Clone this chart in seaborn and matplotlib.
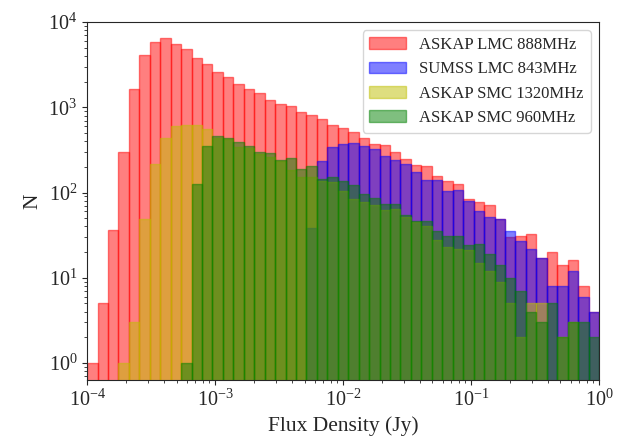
import numpy as np
import pandas as pd
import seaborn as sns
import matplotlib.pyplot as plt
from matplotlib.colors import to_rgba

# 49 log-spaced bins from 1e-4 to 1 Jy (edges given in log10 units)
log_edges = np.linspace(-4, 0, 50)
flux_centers = 10 ** ((log_edges[:-1] + log_edges[1:]) / 2)

# counts per bin
askap_lmc_888 = [1, 5, 36, 302, 1630, 4140, 5880, 6430, 5600, 4800,
                 3800, 3200, 2620, 2240, 1870, 1630, 1470, 1220, 1090, 1030,
                 890, 810, 730, 620, 575, 510, 437, 372, 363, 297,
                 250, 212, 207, 158, 136, 127, 85, 78, 72, 49,
                 30, 31, 33, 17, 20, 14, 16, 8, 4]
sumss_lmc_843 = [0, 0, 0, 0, 0, 0, 0, 0, 0, 0,
                 0, 0, 0, 0, 0, 0, 0, 0, 0, 0,
                 0, 38, 237, 347, 372, 382, 350, 325, 272, 238,
                 214, 174, 141, 141, 104, 106, 80, 61, 52, 49,
                 35, 27, 22, 17, 8, 8, 12, 6, 4]
askap_smc_1320 = [0, 0, 0, 1, 3, 49, 217, 437, 600, 627,
                  620, 560, 440, 425, 340, 330, 285, 262, 235, 182,
                  152, 152, 138, 133, 104, 83, 78, 71, 62, 65,
                  52, 45, 41, 28, 23, 22, 21, 15, 12, 9,
                  5, 2, 5, 5, 0, 2, 3, 0, 0]
askap_smc_960 = [0, 0, 0, 0, 0, 0, 0, 0, 0, 1,
                 126, 355, 455, 436, 390, 355, 302, 292, 240, 254,
                 190, 205, 145, 152, 136, 123, 97, 86, 73, 73,
                 54, 47, 47, 35, 31, 31, 24, 25, 19, 14,
                 10, 7, 4, 3, 5, 2, 3, 3, 2]

labels = ["ASKAP LMC 888MHz", "SUMSS LMC 843MHz",
          "ASKAP SMC 1320MHz", "ASKAP SMC 960MHz"]
colors = ["red", "blue", "y", "green"]
series = [askap_lmc_888, sumss_lmc_843, askap_smc_1320, askap_smc_960]

rows = []
for lab, counts in zip(labels, series):
    for f, c in zip(flux_centers, counts):
        if c > 0:
            rows.append({"flux": f, "count": c, "survey": lab})
df = pd.DataFrame(rows)

sns.set_style("ticks")
plt.rcParams["font.family"] = ["Liberation Serif", "DejaVu Serif"]
plt.rcParams["mathtext.fontset"] = "stix"

fig, ax = plt.subplots(figsize=(6.22, 4.42), dpi=100)
fig.subplots_adjust(left=0.14, right=0.963, top=0.95, bottom=0.14)

for lab, col in zip(labels, colors):
    sub = df[df["survey"] == lab]
    sns.histplot(data=sub, x="flux", weights="count", bins=list(log_edges),
                 log_scale=True, color=col, alpha=0.5,
                 edgecolor=to_rgba(col, 0.5), linewidth=1,
                 label=lab, ax=ax)

ax.set_yscale("log")
ax.set_xlim(1e-4, 1)
ax.set_ylim(0.63, 1e4)
ax.set_xlabel("Flux Density (Jy)", fontsize=15.5)
ax.set_ylabel("N", fontsize=15.5)
ax.tick_params(labelsize=14.5)
ax.legend(loc="upper right", fontsize=12, handlelength=2.2)

plt.savefig("out.png", dpi=100)
